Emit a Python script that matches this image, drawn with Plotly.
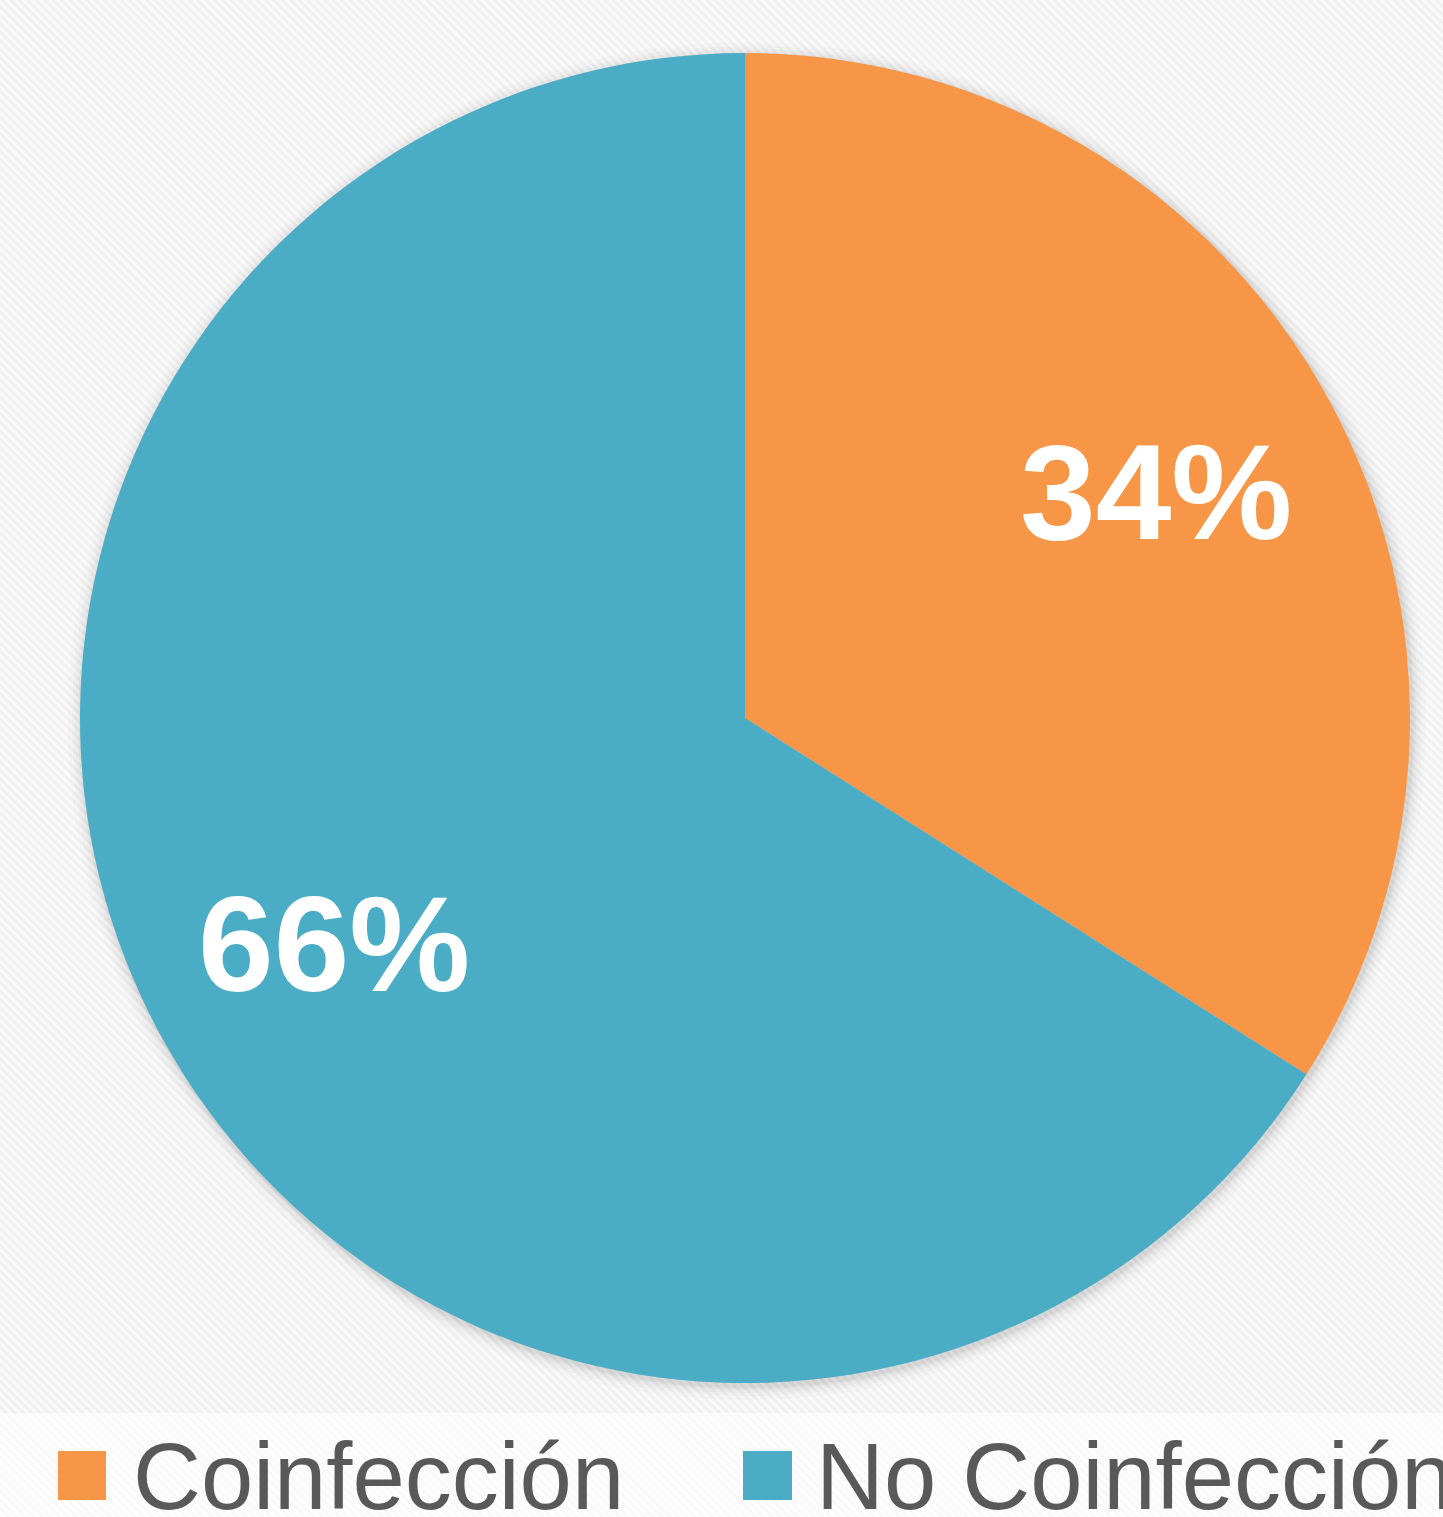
import base64
import math
import plotly.graph_objects as go

labels = ["Coinfección", "No Coinfección"]
values = [34, 66]
colors = ["#F79646", "#4BACC6"]

W, H = 1443, 1517
ML, MR, MT, MB = 80, 33, 53, 134
PW, PH = W - ML - MR, H - MT - MB


def px_x(px):
    return (px - ML) / PW


def px_y(py):
    return (H - MB - py) / PH


svg = (
    '<svg xmlns="http://www.w3.org/2000/svg" width="1443" height="1517">'
    '<defs><pattern id="p" width="6" height="6" patternUnits="userSpaceOnUse" '
    'patternTransform="rotate(-45)">'
    '<rect width="6" height="6" fill="#fafafa"/>'
    '<rect width="3" height="6" fill="#f0f0f0"/></pattern></defs>'
    '<rect width="100%" height="100%" fill="url(#p)"/>'
    '<rect x="0" y="1413" width="1443" height="104" fill="#ffffff" fill-opacity="0.6"/>'
    '</svg>'
)
src = "data:image/svg+xml;base64," + base64.b64encode(svg.encode()).decode()

fig = go.Figure(
    go.Pie(
        labels=labels,
        values=values,
        marker=dict(colors=colors, line=dict(width=0)),
        sort=False,
        direction="clockwise",
        rotation=0,
        textinfo="none",
        showlegend=False,
        hoverinfo="label+percent",
    )
)

shapes = []
annotations = []
cx, cy, R = ML + PW / 2, MT + PH / 2, PW / 2

# soft shadow around the pie
for k, a in [(14, 0.015), (10, 0.02), (7, 0.025), (4, 0.03), (2, 0.04)]:
    shapes.append(dict(
        type="circle", xref="paper", yref="paper",
        x0=px_x(cx - R - k + 2), x1=px_x(cx + R + k + 2),
        y0=px_y(cy + R + k + 3), y1=px_y(cy - R - k + 3),
        fillcolor=f"rgba(0,0,0,{a})", line=dict(width=0), layer="below",
    ))

# percentage labels placed along each slice's bisector
total = sum(values)
cum = 0.0
for v in values:
    mid = (cum + v / 2) / total * 2 * math.pi
    cum += v
    r = 0.705 * R
    lx = cx + r * math.sin(mid)
    ly = cy - r * math.cos(mid)
    annotations.append(dict(
        text=f"{v / total * 100:.0f}%", xref="paper", yref="paper",
        x=px_x(lx), y=px_y(ly), xanchor="center", yanchor="middle",
        showarrow=False,
        font=dict(family="Liberation Sans", size=136, color="white", weight="bold"),
    ))

# manual legend
legend_sq = [(58, 106), (743, 792)]
legend_tx = [131, 814]
for i, lab in enumerate(labels):
    x0, x1 = legend_sq[i]
    shapes.append(dict(
        type="rect", xref="paper", yref="paper",
        x0=px_x(x0), x1=px_x(x1), y0=px_y(1500), y1=px_y(1451),
        fillcolor=colors[i], line=dict(width=0),
    ))
    annotations.append(dict(
        text=lab, xref="paper", yref="paper",
        x=px_x(legend_tx[i]), y=px_y(1476), xanchor="left", yanchor="middle",
        showarrow=False,
        font=dict(family="Liberation Sans", size=94, color="#595959"),
    ))

fig.update_layout(
    width=W, height=H,
    margin=dict(l=ML, r=MR, t=MT, b=MB),
    paper_bgcolor="#f6f6f6",
    plot_bgcolor="rgba(0,0,0,0)",
    shapes=shapes,
    annotations=annotations,
    images=[dict(
        source=src, xref="paper", yref="paper",
        x=px_x(0), y=px_y(0), sizex=W / PW, sizey=H / PH,
        xanchor="left", yanchor="top", sizing="stretch", layer="below",
    )],
)

fig.write_html("out.html")
